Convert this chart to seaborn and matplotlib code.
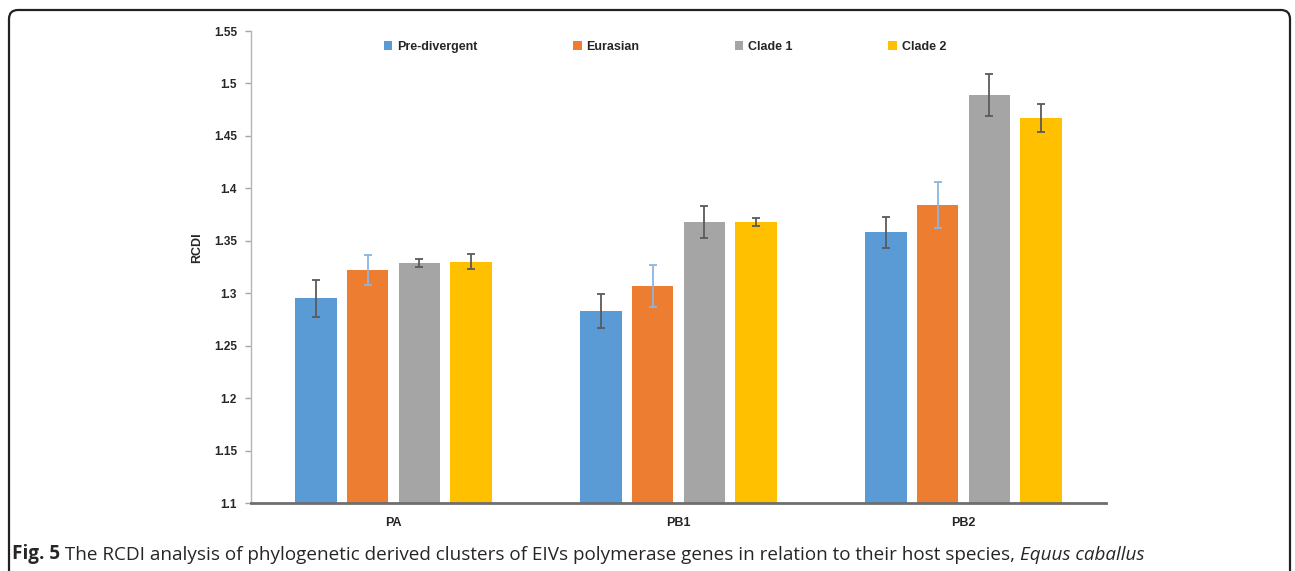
import matplotlib
matplotlib.use("Agg")
import matplotlib.pyplot as plt
import seaborn as sns
import pandas as pd
from matplotlib.patches import FancyBboxPatch, Patch

# RCDI per polymerase gene for each phylogenetic cluster
genes = ["PA", "PB1", "PB2"]
clusters = ["Pre-divergent", "Eurasian", "Clade 1", "Clade 2"]
pre_divergent = [1.295, 1.283, 1.358]
eurasian = [1.322, 1.307, 1.384]
clade1 = [1.329, 1.368, 1.489]
clade2 = [1.330, 1.368, 1.467]
# error bar half-widths
pre_divergent_err = [0.018, 0.016, 0.015]
eurasian_err = [0.014, 0.020, 0.022]
clade1_err = [0.004, 0.015, 0.020]
clade2_err = [0.007, 0.004, 0.013]
yticks = [1.1, 1.15, 1.2, 1.25, 1.3, 1.35, 1.4, 1.45, 1.5, 1.55]

colors = ["#5B9BD5", "#ED7D31", "#A5A5A5", "#FFC000"]
err_colors = ["#5A5A5A", "#8DB4E2", "#5A5A5A", "#5A5A5A"]

values = [pre_divergent, eurasian, clade1, clade2]
errors = [pre_divergent_err, eurasian_err, clade1_err, clade2_err]

rows = []
for c, vals in zip(clusters, values):
    for g, v in zip(genes, vals):
        rows.append({"gene": g, "cluster": c, "rcdi": v})
df = pd.DataFrame(rows)

sns.set_style("white")
chart_font = ["Liberation Sans", "DejaVu Sans"]
plt.rcParams["font.family"] = chart_font

fig = plt.figure(figsize=(12.95, 5.71), dpi=100)
ax = fig.add_axes([251 / 1295, 68 / 571, 855 / 1295, 472 / 571])

sns.barplot(data=df, x="gene", y="rcdi", hue="cluster", order=genes,
            hue_order=clusters, palette=colors, saturation=1, width=0.725,
            gap=0.2, errorbar=None, legend=False, linewidth=0, ax=ax)

for cont, errs, ec in zip(ax.containers, errors, err_colors):
    xs = [b.get_x() + b.get_width() / 2 for b in cont]
    ys = [b.get_height() for b in cont]
    ax.errorbar(xs, ys, yerr=errs, fmt="none", ecolor=ec, elinewidth=1.3,
                capsize=2.6, capthick=1.3, zorder=3)

ax.set_ylim(1.1, 1.55)
ax.set_xlim(-0.5, 2.5)
ax.set_yticks(yticks)
ax.set_yticklabels([f"{t:g}" for t in yticks], fontsize=8.5, fontweight="bold")
ax.set_xticks(range(len(genes)))
ax.set_xticklabels(genes, fontsize=9, fontweight="bold")
ax.set_xticks([-0.5, 0.5, 1.5, 2.5], minor=True)
ax.tick_params(axis="x", which="major", length=0, pad=10)
ax.tick_params(axis="x", which="minor", length=5, width=1, color="#6E6E6E")
ax.tick_params(axis="y", which="major", length=4, width=1, color="#A6A6A6",
               pad=6, left=True)
ax.set_xlabel("")
ax.set_ylabel("RCDI", fontsize=9, fontweight="bold")
ax.yaxis.set_label_coords(-0.056, 0.54)

for s in ["top", "right"]:
    ax.spines[s].set_visible(False)
ax.spines["left"].set_color("#B5B5B5")
ax.spines["left"].set_linewidth(1)
ax.spines["bottom"].set_color("#6E6E6E")
ax.spines["bottom"].set_linewidth(2)

handles = [Patch(facecolor=c, edgecolor="none", label=l)
           for c, l in zip(colors, clusters)]
leg = ax.legend(handles=handles, loc="center", ncol=4, frameon=False,
                bbox_to_anchor=(0.484, 0.966), handlelength=0.7,
                handleheight=0.7, handletextpad=0.4, columnspacing=7.6,
                prop={"weight": "bold", "size": 9})

# rounded frame around the figure
frame = FancyBboxPatch((0.09, -0.3), 12.81, 5.91,
                       boxstyle="round,pad=0,rounding_size=0.09",
                       transform=fig.dpi_scale_trans, fill=False,
                       edgecolor="#222222", linewidth=1.6, clip_on=False)
fig.patches.append(frame)

# caption
cap_font = ["Open Sans", "DejaVu Sans"]
cap_size = 13.6
t1 = fig.text(12 / 1295, 7 / 571, "Fig. 5", fontsize=cap_size,
              fontweight="bold", family=cap_font, va="bottom", ha="left")
t2 = ax.annotate(" The RCDI analysis of phylogenetic derived clusters of EIVs "
                 "polymerase genes in relation to their host species, ",
                 xy=(1, 0), xycoords=t1, va="bottom", ha="left",
                 fontsize=cap_size, family=cap_font, annotation_clip=False)
t3 = ax.annotate("Equus caballus", xy=(1, 0), xycoords=t2, va="bottom",
                 ha="left", fontsize=cap_size, style="italic", family=cap_font,
                 annotation_clip=False)

fig.savefig("out.png", dpi=100)
